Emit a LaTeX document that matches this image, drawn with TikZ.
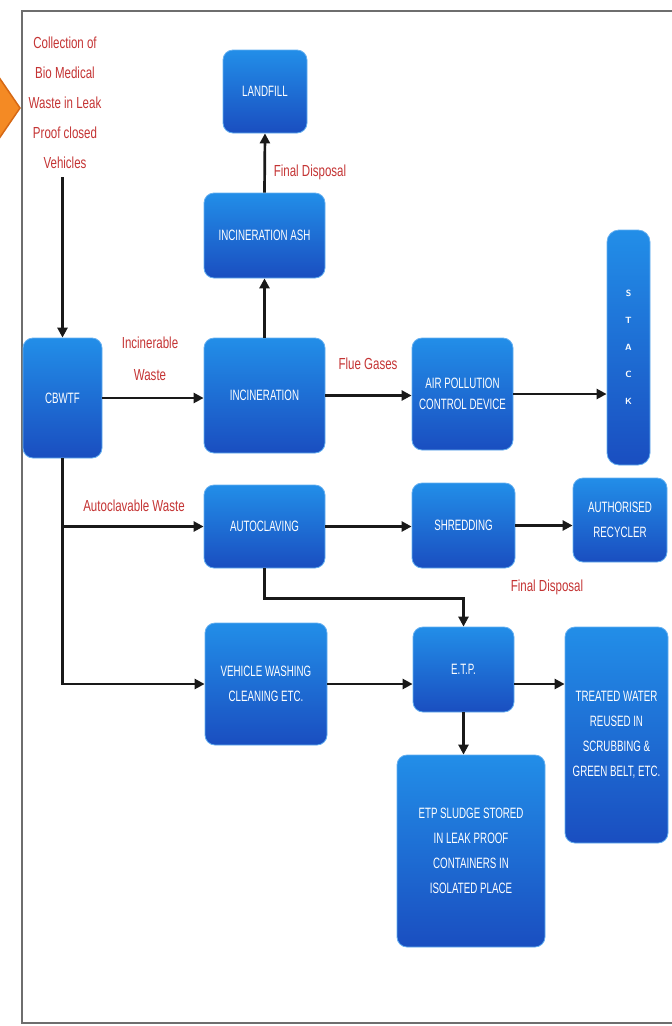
\documentclass[tikz,border=0pt]{standalone}
\usepackage{fontspec}
\setmainfont{Liberation Sans}
\newfontfamily\boxfont[FakeStretch=0.65]{Liberation Sans}
\newfontfamily\labfont[FakeStretch=0.72]{Liberation Sans}
\usetikzlibrary{arrows.meta,calc}
\definecolor{boxtop}{RGB}{34,142,232}
\definecolor{boxbot}{RGB}{26,78,192}
\definecolor{boxedge}{RGB}{100,175,240}
\definecolor{labred}{RGB}{196,52,52}
\definecolor{orng}{RGB}{244,138,36}
\definecolor{orngdk}{RGB}{214,104,20}
\definecolor{framegray}{RGB}{110,110,110}
\definecolor{linecol}{RGB}{25,25,25}
\begin{document}
\begin{tikzpicture}[x=1pt,y=-1pt,
  blk/.style={rectangle, rounded corners=10pt, top color=boxtop, bottom color=boxbot,
    draw=boxedge, line width=0.8pt, text=white, align=center,
    font=\boxfont\fontsize{15}{25}\selectfont, inner sep=0pt},
  lab/.style={text=labred, align=center, font=\labfont\fontsize{16}{30}\selectfont, inner sep=0pt},
  arr/.style={line width=2.7pt, draw=linecol, -{Triangle[length=10pt,width=10pt]}},
  frameline/.style={draw=framegray, line width=2.5pt}]

\useasboundingbox (0,0) rectangle (672,1026);

% orange marker at the left edge and frame
\filldraw[fill=orng, draw=orngdk, line width=1.5pt] (-6,70) -- (20,108) -- (-6,146) -- cycle;
\draw[frameline] (672,11) -- (22,11) -- (22,1023) -- (672,1023);

% boxes
\node[blk, minimum width=84pt,  minimum height=83pt]  (landfill) at (265,91.5)   {LANDFILL};
\node[blk, minimum width=121pt, minimum height=85pt]  (ash)      at (264.5,235.5) {INCINERATION ASH};
\node[blk, minimum width=121pt, minimum height=115pt] (incin)    at (264.5,395.5) {INCINERATION};
\node[blk, minimum width=79pt,  minimum height=120pt] (cbwtf)    at (62.5,398)   {CBWTF};
\node[blk, minimum width=101pt, minimum height=112pt, font=\boxfont\fontsize{15}{21}\selectfont] (apcd) at (462.5,394) {AIR POLLUTION\\CONTROL DEVICE};
\node[blk, minimum width=43pt,  minimum height=235pt, rounded corners=12pt, font=\sffamily\bfseries\fontsize{9}{27}\selectfont] (stack) at (628.5,347.5) {S\\T\\A\\C\\K};
\node[blk, minimum width=121pt, minimum height=83pt]  (autoc)    at (264.5,526.5) {AUTOCLAVING};
\node[blk, minimum width=103pt, minimum height=85pt]  (shred)    at (463.5,525.5) {SHREDDING};
\node[blk, minimum width=94pt,  minimum height=84pt]  (recyc)    at (620,520)    {AUTHORISED\\RECYCLER};
\node[blk, minimum width=122pt, minimum height=122pt] (vehicle)  at (266,684)    {VEHICLE WASHING\\CLEANING ETC.};
\node[blk, minimum width=101pt, minimum height=85pt]  (etp)      at (463.5,669.5) {E.T.P.};
\node[blk, minimum width=103pt, minimum height=216pt] (treated)  at (616.5,735)  {TREATED WATER\\REUSED IN\\SCRUBBING \&\\GREEN BELT, ETC.};
\node[blk, minimum width=148pt, minimum height=192pt] (sludge)   at (471,851)    {ETP SLUDGE STORED\\IN LEAK PROOF\\CONTAINERS IN\\ISOLATED PLACE};

% red labels
\node[lab] (collect) at (65,103) {Collection of\\Bio Medical\\Waste in Leak\\Proof closed\\Vehicles};
\node[lab, font=\labfont\fontsize{16}{32}\selectfont] (incw) at (150,359) {Incinerable\\Waste};
\node[lab] (flue)  at (368,364) {Flue Gases};
\node[lab] (autow) at (134,506) {Autoclavable Waste};
\node[lab] (fd1)   at (310,172) {Final Disposal};
\node[lab] (fd2)   at (547,587) {Final Disposal};

% connectors
\coordinate (cstart) at ($(collect.south -| cbwtf.north)+(0,8)$);
\draw[arr] (cstart) -- (cbwtf.north);
\draw[arr] (cbwtf.east) -- (cbwtf.east -| incin.west);
\draw[arr] (incin.north) -- (ash.south);
\draw[arr] (ash.north) -- (landfill.south);
\draw[arr] (incin.east) -- (incin.east -| apcd.west);
\draw[arr] (apcd.east) -- (apcd.east -| stack.west);
\draw[arr] (cbwtf.south) |- (vehicle.west);
\draw[arr] (cbwtf.south |- autoc.west) -- (autoc.west);
\draw[arr] (autoc.east) -- (autoc.east -| shred.west);
\draw[arr] (shred.east) -- (shred.east -| recyc.west);
\draw[arr] (autoc.south) -- ++(0,30) -| (etp.north);
\draw[arr] (vehicle.east) -- (vehicle.east -| etp.west);
\draw[arr] (etp.east |- vehicle.east) -- (vehicle.east -| treated.west);
\draw[arr] (etp.south) -- (etp.south |- sludge.north);
\end{tikzpicture}
\end{document}
